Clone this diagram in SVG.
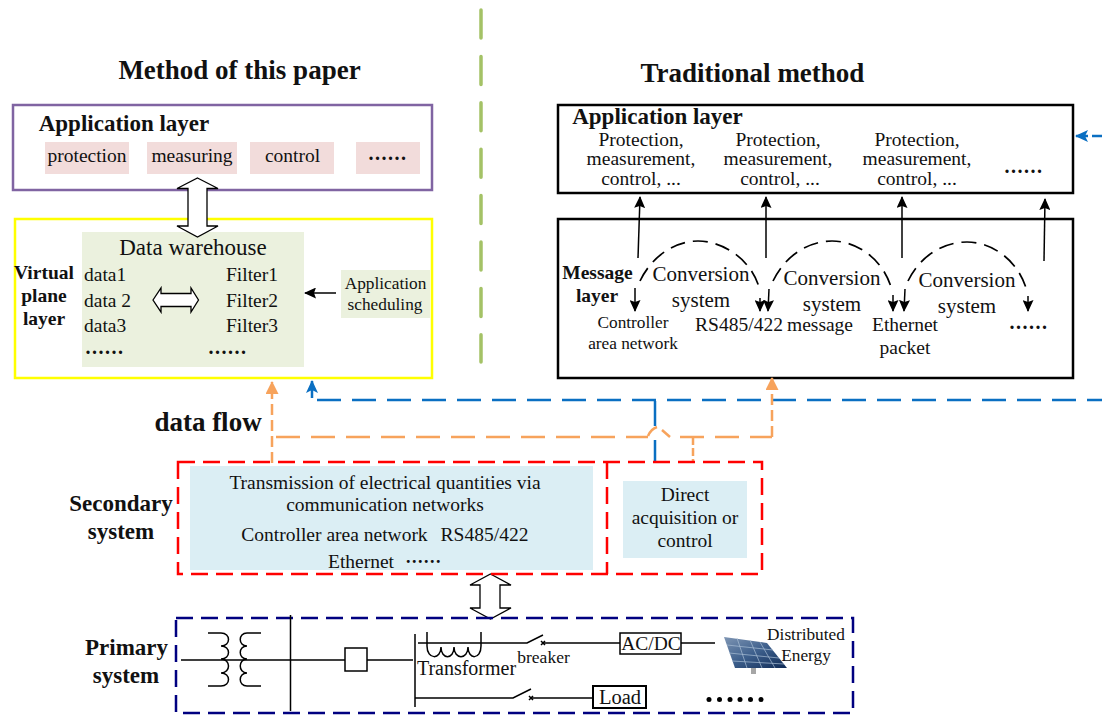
<svg xmlns="http://www.w3.org/2000/svg" width="1102" height="717" viewBox="0 0 1102 717">
<style>
text{font-family:"Liberation Serif","Times New Roman",serif;fill:#111;text-anchor:middle}
.t{font-size:27px;font-weight:bold}
.h{font-size:23px;font-weight:bold}
.v{font-size:19.500px;font-weight:bold}
.n{font-size:19.500px}
.c{font-size:21px}
.p{font-size:19.500px}
.e{font-size:19.500px}
.s{font-size:17.300px}
.o{font-size:19.500px;text-anchor:start}
.box{fill:#fff;stroke-width:2.500}
.ln{fill:none;stroke:#000;stroke-width:1.500}
.dbl{fill:#fff;stroke:#000;stroke-width:1.300}
.blue{fill:none;stroke:#0a6fc2;stroke-width:2.500}
.or{fill:none;stroke:#f7a35c;stroke-width:2.500}
.dots{font-size:20px;font-weight:bold;letter-spacing:1.500px}
.dash{stroke-dasharray:15 8;stroke-width:1.700}
</style>
<defs>
<marker id="ak" markerUnits="userSpaceOnUse" markerWidth="12" markerHeight="11" refX="11" refY="5.500" orient="auto"><path d="M0 0L12 5.500L0 11L2 5.500Z" fill="#000"/></marker>
<marker id="ab" markerUnits="userSpaceOnUse" markerWidth="13" markerHeight="12" refX="12" refY="6" orient="auto"><path d="M0 0L13 6L0 12L3 6Z" fill="#0a6fc2"/></marker>
<marker id="ao" markerUnits="userSpaceOnUse" markerWidth="13" markerHeight="13" refX="12" refY="6.500" orient="auto"><path d="M0 0L13 6.500L0 13Z" fill="#f7a35c"/></marker>
<linearGradient id="sol" x1="0" y1="0" x2="1" y2="1"><stop offset="0" stop-color="#7f96b4"/><stop offset="0.5" stop-color="#3d5f8c"/><stop offset="1" stop-color="#0f2a55"/></linearGradient>
</defs>

<g id="divider"><line x1="481" y1="10" x2="481" y2="362" stroke="#a4c266" stroke-width="3.500" stroke-linecap="round" stroke-dasharray="28 18.400"/></g>
<g id="titles">
<text class="t" x="239.500" y="79">Method of this paper</text>
<text class="t" x="752.500" y="82">Traditional method</text>
</g>

<g id="app-left">
<rect class="box" x="13" y="105" width="419" height="85" stroke="#8064a2"/>
<text class="h" x="124" y="131">Application layer</text>
<rect x="45" y="142" width="84" height="32" fill="#f2dcdb"/><text class="n" x="87" y="162">protection</text>
<rect x="147" y="142" width="90" height="32" fill="#f2dcdb"/><text class="n" x="192" y="162">measuring</text>
<rect x="250" y="142" width="84" height="32" fill="#f2dcdb"/><text class="n" x="292.500" y="162">control</text>
<rect x="356" y="142" width="64" height="32" fill="#f2dcdb"/><text class="dots" x="388" y="160">......</text>
</g>

<g id="virtual-plane">
<rect class="box" x="15" y="219" width="417" height="159" stroke="#ffff00"/>
<rect x="82" y="232" width="222" height="135" fill="#ebf1de"/>
<text class="v" x="44" y="279">Virtual</text>
<text class="v" x="44" y="302">plane</text>
<text class="v" x="44" y="325">layer</text>
<text x="193" y="255" style="font-size:23px">Data warehouse</text>
<text class="o" x="84" y="281">data1</text><text class="o" x="84" y="307">data 2</text><text class="o" x="84" y="332">data3</text>
<text class="o" x="226" y="281">Filter1</text><text class="o" x="226" y="307">Filter2</text><text class="o" x="226" y="332">Filter3</text>
<text class="dots" x="105" y="354">......</text><text class="dots" x="228" y="354">......</text>
<path class="dbl" d="M153 300L161 288V293.500H191V288L198.500 300L191 312V306.500H161V312Z"/>
<rect x="341" y="270" width="89" height="48" fill="#ebf1de"/>
<text class="s" x="385.500" y="289">Application</text><text class="s" x="385" y="310">scheduling</text>
<line class="ln" x1="336" y1="293" x2="305" y2="293" marker-end="url(#ak)"/>
</g>
<g id="app-arrow"><path class="dbl" d="M197.500 178L218 188.500H207V226H218L197.500 237L177 226H188V188.500H177Z"/></g>

<g id="app-right">
<rect class="box" x="558" y="105" width="515" height="88" stroke="#000"/>
<text class="h" x="657.500" y="124">Application layer</text>
<text class="p" x="641" y="146">Protection,</text><text class="p" x="641" y="165">measurement,</text><text class="p" x="641" y="185">control, ...</text>
<text class="p" x="778" y="146">Protection,</text><text class="p" x="778" y="165">measurement,</text><text class="p" x="780" y="185">control, ...</text>
<text class="p" x="917" y="146">Protection,</text><text class="p" x="917" y="165">measurement,</text><text class="p" x="917" y="185">control, ...</text>
<text class="dots" x="1024" y="173">......</text>
</g>

<g id="message-layer">
<rect class="box" x="558" y="219" width="515" height="159" stroke="#000"/>
<text class="v" x="597.500" y="279">Message</text><text class="v" x="597" y="302">layer</text>
<text class="c" x="701" y="281">Conversion</text><text class="c" x="701" y="307">system</text>
<text class="c" x="832" y="285">Conversion</text><text class="c" x="832" y="311">system</text>
<text class="c" x="967" y="287">Conversion</text><text class="c" x="967" y="313">system</text>
<text class="s" x="633" y="328">Controller</text><text class="s" x="633" y="349">area network</text>
<text class="e" x="739" y="331">RS485/422</text><text class="e" x="820" y="331">message</text>
<text class="e" x="905" y="331">Ethernet</text><text class="e" x="905" y="354">packet</text>
<text class="dots" x="1029" y="329">......</text>
</g>

<g id="connectors">
<line class="ln" x1="638" y1="258" x2="640" y2="197" marker-end="url(#ak)"/>
<line class="ln" x1="766" y1="258" x2="766" y2="197" marker-end="url(#ak)"/>
<line class="ln" x1="902" y1="258" x2="902" y2="197" marker-end="url(#ak)"/>
<line class="ln" x1="1044" y1="261" x2="1045" y2="199" marker-end="url(#ak)"/>
<path class="ln dash" d="M640 281C652 256 675 241 698 241C722 241 750 258 759 287"/>
<path class="ln dash" d="M773 281C785 256 808 241 832 241C856 241 882 258 891 287"/>
<path class="ln dash" d="M908 281C920 256 943 242 967 242C991 242 1017 259 1026 288"/>
<line class="ln" x1="635" y1="288" x2="635" y2="311" marker-end="url(#ak)"/>
<line class="ln" x1="760" y1="298" x2="760" y2="311" marker-end="url(#ak)"/>
<line class="ln" x1="769" y1="289" x2="768" y2="311" marker-end="url(#ak)"/>
<line class="ln" x1="893" y1="295" x2="893" y2="311" marker-end="url(#ak)"/>
<line class="ln" x1="905" y1="289" x2="904" y2="311" marker-end="url(#ak)"/>
<line class="ln" x1="1028" y1="296" x2="1028" y2="311" marker-end="url(#ak)"/>
<path class="blue" stroke-dasharray="24 11" d="M317 400H1102"/>
<line class="blue" x1="312" y1="398" x2="312" y2="381" marker-end="url(#ab)"/>
<path class="blue" d="M655 401V426M655 440V462"/>
<path class="blue" stroke-dasharray="10 3" d="M1102 136H1092"/>
<line class="blue" x1="1088" y1="136" x2="1076" y2="136" marker-end="url(#ab)"/>
<path class="or" stroke-dasharray="11 5" d="M272 463V382" marker-end="url(#ao)"/>
<path class="or" stroke-dasharray="24 11" d="M276 437H648"/>
<path class="or" d="M648 436Q651 429 657 427M662 430L670 437"/>
<path class="or" stroke-dasharray="24 11" d="M680 437H772"/>
<path class="or" stroke-dasharray="11 5" d="M772 437V378" marker-end="url(#ao)"/>
<path class="or" stroke-dasharray="8 3" d="M693 437V462"/>
<path class="dbl" d="M490.500 574L511 585H500V608H511L490.500 619L470 608H480V585H470Z"/>
<text class="t" x="208" y="431">data flow</text>
</g>

<g id="secondary-system">
<text class="h" x="121" y="511">Secondary</text><text class="h" x="121" y="539">system</text>
<rect x="190" y="466" width="403" height="104" fill="#dbeef4"/>
<rect x="623" y="481" width="124" height="77" fill="#dbeef4"/>
<rect x="178" y="462" width="584" height="112" fill="none" stroke="#ff0000" stroke-width="2.500" stroke-dasharray="17 8"/>
<path d="M607 462V574" stroke="#ff0000" stroke-width="2.500" stroke-dasharray="17 8" fill="none"/>
<text class="n" x="385" y="489">Transmission of electrical quantities via</text>
<text class="n" x="385" y="511">communication networks</text>
<text class="n" x="334.500" y="541">Controller area network</text>
<text class="n" x="484.500" y="541">RS485/422</text>
<text class="n" x="361" y="568">Ethernet</text>
<text class="dots" x="424" y="563" style="font-size:18px">......</text>
<text class="n" x="685" y="501">Direct</text><text class="n" x="685" y="524">acquisition or</text><text class="n" x="685" y="547">control</text>
</g>

<g id="primary-system">
<text class="h" x="126.500" y="655">Primary</text><text class="h" x="126" y="683">system</text>
<rect x="176" y="618" width="677" height="95" fill="none" stroke="#000080" stroke-width="2.500" stroke-dasharray="17 8"/>
<g class="ln">
<path d="M181 660H345M367 660H413"/>
<path d="M290.500 615V711M415 634V707"/>
<rect x="345" y="648" width="22" height="23" fill="#fff"/>
<path d="M208 633H221C231 633 231 646 221 646C231 646 231 659 221 659C231 659 231 673 221 673C231 673 231 686 221 686H208"/>
<path d="M261 633H247C238 633 238 646 247 646C238 646 238 659 247 659C238 659 238 673 247 673C238 673 238 686 247 686H261"/>
<path d="M418 643H527L543 635"/>
<path d="M427 632V646C427 660 441 660 441 647C441 660 454 660 454 647C454 660 468 660 468 647C468 660 481 660 481 646V632"/>
<path d="M543 643H620M681 643H715"/>
<path d="M541 641L545 645M545 641L541 645"/>
<path d="M415 698H513L531 689"/>
<path d="M531 698H593"/>
<path d="M529 696L533 700M533 696L529 700"/>
</g>
<rect x="620" y="633" width="61" height="21" fill="#fff" stroke="#000" stroke-width="1.500"/>
<text class="n" x="651" y="650">AC/DC</text>
<rect x="593" y="686" width="53" height="22" fill="#fff" stroke="#000" stroke-width="2"/>
<text x="620" y="704" style="font-size:20.500px">Load</text>
<text x="466.500" y="675" style="font-size:20px">Transformer</text>
<text x="543.500" y="663" style="font-size:17.500px">breaker</text>
<g id="solar-panel">
<rect x="751" y="667" width="5" height="7" fill="#a6a6a6"/>
<path d="M724 637L767 643L787 668L735 668Z" fill="url(#sol)"/>
<path d="M727 645L773 650M729 653L779 658M732 661L784 664M737 638L747 668M750 640L762 668M760 642L775 668" stroke="#a9bed6" stroke-width="0.700" fill="none"/>
</g>
<text class="s" x="806" y="640">Distributed</text><text class="s" x="806" y="661">Energy</text>
<g fill="#000"><circle cx="709" cy="699.500" r="2.500"/><circle cx="719.500" cy="699.500" r="2.500"/><circle cx="730" cy="699.500" r="2.500"/><circle cx="740" cy="699.500" r="2.500"/><circle cx="750.500" cy="699.500" r="2.500"/><circle cx="761" cy="699.500" r="2.500"/></g>
</g>
</svg>
